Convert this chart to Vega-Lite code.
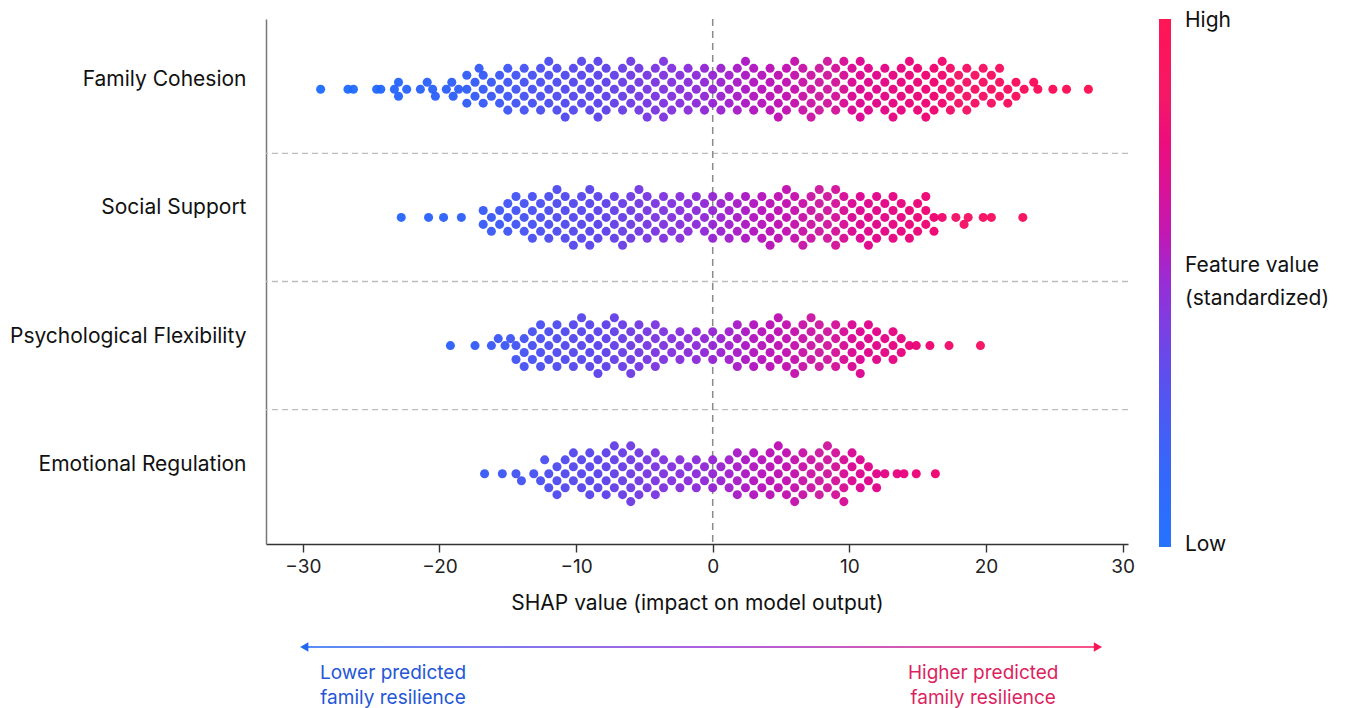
{
"$schema": "https://vega.github.io/schema/vega-lite/v6.json",
"background": "white",
"padding": {"left": 9, "top": 18, "right": 5, "bottom": 1},
"config": {"font": "Inter", "view": {"stroke": null}},
"bounds": "flush",
"spacing": 80,
"vconcat": [
{
"width": 862, "height": 525,
"layer": [
{"data": {"values": [{"f":2},{"f":3},{"f":4}]},
 "mark": {"type":"rule","color":"#bdbdbd","strokeDash":[6,4],"strokeWidth":1.3},
 "encoding": {"y": {"field":"f","type":"nominal","bandPosition":0}}},
{"data": {"values": [{}]},
 "mark": {"type":"rule","color":"#8a8a8a","strokeDash":[7,5],"strokeWidth":1.5},
 "encoding": {"x": {"datum":0,"type":"quantitative"}}},
{"data": {"values": [
{"f":1,"x":-28.7,"o":0},{"f":1,"x":-26.7,"o":0},{"f":1,"x":-26.3,"o":0},{"f":1,"x":-24.6,"o":0},{"f":1,"x":-24.3,"o":0},{"f":1,"x":-23.3,"o":0},{"f":1,"x":-23,"o":-1},{"f":1,"x":-23,"o":1},{"f":1,"x":-22.4,"o":0},{"f":1,"x":-21.4,"o":0},{"f":1,"x":-20.9,"o":-1},{"f":1,"x":-20.5,"o":0},{"f":1,"x":-20.3,"o":1},{"f":1,"x":-19.5,"o":0},{"f":1,"x":-19.1,"o":-1},{"f":1,"x":-19,"o":1},{"f":1,"x":-18.6,"o":0},{"f":1,"x":-17.1,"o":-3},
{"f":1,"x":-18,"o":0},{"f":1,"x":-18,"o":-2},{"f":1,"x":-18,"o":2},
{"f":1,"x":-17.4,"o":-1},{"f":1,"x":-17.4,"o":1},
{"f":1,"x":-16.8,"o":0},{"f":1,"x":-16.8,"o":-2},{"f":1,"x":-16.8,"o":2},
{"f":1,"x":-16.2,"o":-1},{"f":1,"x":-16.2,"o":1},
{"f":1,"x":-15.6,"o":0},{"f":1,"x":-15.6,"o":-2},{"f":1,"x":-15.6,"o":2},
{"f":1,"x":-15,"o":-1},{"f":1,"x":-15,"o":1},{"f":1,"x":-15,"o":-3},{"f":1,"x":-15,"o":3},
{"f":1,"x":-14.4,"o":0},{"f":1,"x":-14.4,"o":-2},{"f":1,"x":-14.4,"o":2},
{"f":1,"x":-13.8,"o":-1},{"f":1,"x":-13.8,"o":1},{"f":1,"x":-13.8,"o":-3},{"f":1,"x":-13.8,"o":3},
{"f":1,"x":-13.2,"o":0},{"f":1,"x":-13.2,"o":-2},{"f":1,"x":-13.2,"o":2},
{"f":1,"x":-12.6,"o":-1},{"f":1,"x":-12.6,"o":1},{"f":1,"x":-12.6,"o":-3},{"f":1,"x":-12.6,"o":3},
{"f":1,"x":-12,"o":0},{"f":1,"x":-12,"o":-2},{"f":1,"x":-12,"o":2},{"f":1,"x":-12,"o":-4},
{"f":1,"x":-11.4,"o":-1},{"f":1,"x":-11.4,"o":1},{"f":1,"x":-11.4,"o":-3},{"f":1,"x":-11.4,"o":3},
{"f":1,"x":-10.8,"o":0},{"f":1,"x":-10.8,"o":-2},{"f":1,"x":-10.8,"o":2},{"f":1,"x":-10.8,"o":4},
{"f":1,"x":-10.2,"o":-1},{"f":1,"x":-10.2,"o":1},{"f":1,"x":-10.2,"o":-3},{"f":1,"x":-10.2,"o":3},
{"f":1,"x":-9.6,"o":0},{"f":1,"x":-9.6,"o":-2},{"f":1,"x":-9.6,"o":2},{"f":1,"x":-9.6,"o":-4},
{"f":1,"x":-9,"o":-1},{"f":1,"x":-9,"o":1},{"f":1,"x":-9,"o":-3},{"f":1,"x":-9,"o":3},
{"f":1,"x":-8.4,"o":0},{"f":1,"x":-8.4,"o":-2},{"f":1,"x":-8.4,"o":2},{"f":1,"x":-8.4,"o":-4},{"f":1,"x":-8.4,"o":4},
{"f":1,"x":-7.8,"o":-1},{"f":1,"x":-7.8,"o":1},{"f":1,"x":-7.8,"o":-3},{"f":1,"x":-7.8,"o":3},
{"f":1,"x":-7.2,"o":0},{"f":1,"x":-7.2,"o":-2},{"f":1,"x":-7.2,"o":2},
{"f":1,"x":-6.6,"o":-1},{"f":1,"x":-6.6,"o":1},{"f":1,"x":-6.6,"o":-3},{"f":1,"x":-6.6,"o":3},
{"f":1,"x":-6,"o":0},{"f":1,"x":-6,"o":-2},{"f":1,"x":-6,"o":2},{"f":1,"x":-6,"o":-4},
{"f":1,"x":-5.4,"o":-1},{"f":1,"x":-5.4,"o":1},{"f":1,"x":-5.4,"o":-3},{"f":1,"x":-5.4,"o":3},
{"f":1,"x":-4.8,"o":0},{"f":1,"x":-4.8,"o":-2},{"f":1,"x":-4.8,"o":2},{"f":1,"x":-4.8,"o":4},
{"f":1,"x":-4.2,"o":-1},{"f":1,"x":-4.2,"o":1},{"f":1,"x":-4.2,"o":-3},{"f":1,"x":-4.2,"o":3},
{"f":1,"x":-3.6,"o":0},{"f":1,"x":-3.6,"o":-2},{"f":1,"x":-3.6,"o":2},{"f":1,"x":-3.6,"o":-4},{"f":1,"x":-3.6,"o":4},
{"f":1,"x":-3,"o":-1},{"f":1,"x":-3,"o":1},{"f":1,"x":-3,"o":-3},{"f":1,"x":-3,"o":3},
{"f":1,"x":-2.4,"o":0},{"f":1,"x":-2.4,"o":-2},{"f":1,"x":-2.4,"o":2},
{"f":1,"x":-1.8,"o":-1},{"f":1,"x":-1.8,"o":1},{"f":1,"x":-1.8,"o":-3},{"f":1,"x":-1.8,"o":3},
{"f":1,"x":-1.2,"o":0},{"f":1,"x":-1.2,"o":-2},{"f":1,"x":-1.2,"o":2},
{"f":1,"x":-0.6,"o":-1},{"f":1,"x":-0.6,"o":1},{"f":1,"x":-0.6,"o":-3},{"f":1,"x":-0.6,"o":3},
{"f":1,"x":0,"o":0},{"f":1,"x":0,"o":-2},{"f":1,"x":0,"o":2},
{"f":1,"x":0.6,"o":-1},{"f":1,"x":0.6,"o":1},{"f":1,"x":0.6,"o":-3},{"f":1,"x":0.6,"o":3},
{"f":1,"x":1.2,"o":0},{"f":1,"x":1.2,"o":-2},{"f":1,"x":1.2,"o":2},
{"f":1,"x":1.8,"o":-1},{"f":1,"x":1.8,"o":1},{"f":1,"x":1.8,"o":-3},{"f":1,"x":1.8,"o":3},
{"f":1,"x":2.4,"o":0},{"f":1,"x":2.4,"o":-2},{"f":1,"x":2.4,"o":2},{"f":1,"x":2.4,"o":-4},
{"f":1,"x":3,"o":-1},{"f":1,"x":3,"o":1},{"f":1,"x":3,"o":-3},{"f":1,"x":3,"o":3},
{"f":1,"x":3.6,"o":0},{"f":1,"x":3.6,"o":-2},{"f":1,"x":3.6,"o":2},
{"f":1,"x":4.2,"o":-1},{"f":1,"x":4.2,"o":1},{"f":1,"x":4.2,"o":-3},{"f":1,"x":4.2,"o":3},
{"f":1,"x":4.8,"o":0},{"f":1,"x":4.8,"o":-2},{"f":1,"x":4.8,"o":2},{"f":1,"x":4.8,"o":4},
{"f":1,"x":5.4,"o":-1},{"f":1,"x":5.4,"o":1},{"f":1,"x":5.4,"o":-3},{"f":1,"x":5.4,"o":3},
{"f":1,"x":6,"o":0},{"f":1,"x":6,"o":-2},{"f":1,"x":6,"o":2},{"f":1,"x":6,"o":-4},
{"f":1,"x":6.6,"o":-1},{"f":1,"x":6.6,"o":1},{"f":1,"x":6.6,"o":-3},{"f":1,"x":6.6,"o":3},
{"f":1,"x":7.2,"o":0},{"f":1,"x":7.2,"o":-2},{"f":1,"x":7.2,"o":2},{"f":1,"x":7.2,"o":4},
{"f":1,"x":7.8,"o":-1},{"f":1,"x":7.8,"o":1},{"f":1,"x":7.8,"o":-3},{"f":1,"x":7.8,"o":3},
{"f":1,"x":8.4,"o":0},{"f":1,"x":8.4,"o":-2},{"f":1,"x":8.4,"o":2},{"f":1,"x":8.4,"o":-4},
{"f":1,"x":9,"o":-1},{"f":1,"x":9,"o":1},{"f":1,"x":9,"o":-3},{"f":1,"x":9,"o":3},
{"f":1,"x":9.6,"o":0},{"f":1,"x":9.6,"o":-2},{"f":1,"x":9.6,"o":2},{"f":1,"x":9.6,"o":-4},
{"f":1,"x":10.2,"o":-1},{"f":1,"x":10.2,"o":1},{"f":1,"x":10.2,"o":-3},{"f":1,"x":10.2,"o":3},
{"f":1,"x":10.8,"o":0},{"f":1,"x":10.8,"o":-2},{"f":1,"x":10.8,"o":2},{"f":1,"x":10.8,"o":-4},{"f":1,"x":10.8,"o":4},
{"f":1,"x":11.4,"o":-1},{"f":1,"x":11.4,"o":1},{"f":1,"x":11.4,"o":-3},{"f":1,"x":11.4,"o":3},
{"f":1,"x":12,"o":0},{"f":1,"x":12,"o":-2},{"f":1,"x":12,"o":2},
{"f":1,"x":12.6,"o":-1},{"f":1,"x":12.6,"o":1},{"f":1,"x":12.6,"o":-3},{"f":1,"x":12.6,"o":3},
{"f":1,"x":13.2,"o":0},{"f":1,"x":13.2,"o":-2},{"f":1,"x":13.2,"o":2},{"f":1,"x":13.2,"o":4},
{"f":1,"x":13.8,"o":-1},{"f":1,"x":13.8,"o":1},{"f":1,"x":13.8,"o":-3},{"f":1,"x":13.8,"o":3},
{"f":1,"x":14.4,"o":0},{"f":1,"x":14.4,"o":-2},{"f":1,"x":14.4,"o":2},{"f":1,"x":14.4,"o":-4},
{"f":1,"x":15,"o":-1},{"f":1,"x":15,"o":1},{"f":1,"x":15,"o":-3},{"f":1,"x":15,"o":3},
{"f":1,"x":15.6,"o":0},{"f":1,"x":15.6,"o":-2},{"f":1,"x":15.6,"o":2},{"f":1,"x":15.6,"o":4},
{"f":1,"x":16.2,"o":-1},{"f":1,"x":16.2,"o":1},{"f":1,"x":16.2,"o":-3},{"f":1,"x":16.2,"o":3},
{"f":1,"x":16.8,"o":0},{"f":1,"x":16.8,"o":-2},{"f":1,"x":16.8,"o":2},{"f":1,"x":16.8,"o":-4},
{"f":1,"x":17.4,"o":-1},{"f":1,"x":17.4,"o":1},{"f":1,"x":17.4,"o":-3},{"f":1,"x":17.4,"o":3},
{"f":1,"x":18,"o":0},{"f":1,"x":18,"o":-2},{"f":1,"x":18,"o":2},
{"f":1,"x":18.6,"o":-1},{"f":1,"x":18.6,"o":1},{"f":1,"x":18.6,"o":-3},{"f":1,"x":18.6,"o":3},
{"f":1,"x":19.2,"o":0},{"f":1,"x":19.2,"o":-2},{"f":1,"x":19.2,"o":2},
{"f":1,"x":19.8,"o":-1},{"f":1,"x":19.8,"o":1},{"f":1,"x":19.8,"o":-3},
{"f":1,"x":20.4,"o":0},{"f":1,"x":20.4,"o":-2},{"f":1,"x":20.4,"o":2},
{"f":1,"x":21,"o":-1},{"f":1,"x":21,"o":1},{"f":1,"x":21,"o":-3},
{"f":1,"x":21.6,"o":0},{"f":1,"x":21.6,"o":2},
{"f":1,"x":22.2,"o":-1},{"f":1,"x":22.2,"o":1},
{"f":1,"x":22.8,"o":0},{"f":1,"x":23.5,"o":-1},{"f":1,"x":23.8,"o":0},{"f":1,"x":24.9,"o":0},{"f":1,"x":25.9,"o":0},{"f":1,"x":27.5,"o":0},

{"f":2,"x":-22.8,"o":0},{"f":2,"x":-20.8,"o":0},{"f":2,"x":-19.7,"o":0},{"f":2,"x":-18.4,"o":0},
{"f":2,"x":-16.8,"o":-1},{"f":2,"x":-16.8,"o":1},
{"f":2,"x":-16.2,"o":0},{"f":2,"x":-16.2,"o":2},
{"f":2,"x":-15.6,"o":-1},{"f":2,"x":-15.6,"o":1},
{"f":2,"x":-15,"o":0},{"f":2,"x":-15,"o":-2},{"f":2,"x":-15,"o":2},
{"f":2,"x":-14.4,"o":-1},{"f":2,"x":-14.4,"o":1},{"f":2,"x":-14.4,"o":-3},
{"f":2,"x":-13.8,"o":0},{"f":2,"x":-13.8,"o":-2},{"f":2,"x":-13.8,"o":2},
{"f":2,"x":-13.2,"o":-1},{"f":2,"x":-13.2,"o":1},{"f":2,"x":-13.2,"o":-3},{"f":2,"x":-13.2,"o":3},
{"f":2,"x":-12.6,"o":0},{"f":2,"x":-12.6,"o":-2},{"f":2,"x":-12.6,"o":2},
{"f":2,"x":-12,"o":-1},{"f":2,"x":-12,"o":1},{"f":2,"x":-12,"o":-3},{"f":2,"x":-12,"o":3},
{"f":2,"x":-11.4,"o":0},{"f":2,"x":-11.4,"o":-2},{"f":2,"x":-11.4,"o":2},{"f":2,"x":-11.4,"o":-4},
{"f":2,"x":-10.8,"o":-1},{"f":2,"x":-10.8,"o":1},{"f":2,"x":-10.8,"o":-3},{"f":2,"x":-10.8,"o":3},
{"f":2,"x":-10.2,"o":0},{"f":2,"x":-10.2,"o":-2},{"f":2,"x":-10.2,"o":2},{"f":2,"x":-10.2,"o":4},
{"f":2,"x":-9.6,"o":-1},{"f":2,"x":-9.6,"o":1},{"f":2,"x":-9.6,"o":-3},{"f":2,"x":-9.6,"o":3},
{"f":2,"x":-9,"o":0},{"f":2,"x":-9,"o":-2},{"f":2,"x":-9,"o":2},{"f":2,"x":-9,"o":-4},{"f":2,"x":-9,"o":4},
{"f":2,"x":-8.4,"o":-1},{"f":2,"x":-8.4,"o":1},{"f":2,"x":-8.4,"o":-3},{"f":2,"x":-8.4,"o":3},
{"f":2,"x":-7.8,"o":0},{"f":2,"x":-7.8,"o":-2},{"f":2,"x":-7.8,"o":2},
{"f":2,"x":-7.2,"o":-1},{"f":2,"x":-7.2,"o":1},{"f":2,"x":-7.2,"o":-3},{"f":2,"x":-7.2,"o":3},
{"f":2,"x":-6.6,"o":0},{"f":2,"x":-6.6,"o":-2},{"f":2,"x":-6.6,"o":2},{"f":2,"x":-6.6,"o":4},
{"f":2,"x":-6,"o":-1},{"f":2,"x":-6,"o":1},{"f":2,"x":-6,"o":-3},{"f":2,"x":-6,"o":3},
{"f":2,"x":-5.4,"o":0},{"f":2,"x":-5.4,"o":-2},{"f":2,"x":-5.4,"o":2},{"f":2,"x":-5.4,"o":-4},
{"f":2,"x":-4.8,"o":-1},{"f":2,"x":-4.8,"o":1},{"f":2,"x":-4.8,"o":-3},{"f":2,"x":-4.8,"o":3},
{"f":2,"x":-4.2,"o":0},{"f":2,"x":-4.2,"o":-2},{"f":2,"x":-4.2,"o":2},
{"f":2,"x":-3.6,"o":-1},{"f":2,"x":-3.6,"o":1},{"f":2,"x":-3.6,"o":-3},{"f":2,"x":-3.6,"o":3},
{"f":2,"x":-3,"o":0},{"f":2,"x":-3,"o":-2},{"f":2,"x":-3,"o":2},
{"f":2,"x":-2.4,"o":-1},{"f":2,"x":-2.4,"o":1},{"f":2,"x":-2.4,"o":-3},{"f":2,"x":-2.4,"o":3},
{"f":2,"x":-1.8,"o":0},{"f":2,"x":-1.8,"o":-2},{"f":2,"x":-1.8,"o":2},
{"f":2,"x":-1.2,"o":-1},{"f":2,"x":-1.2,"o":1},{"f":2,"x":-1.2,"o":-3},
{"f":2,"x":-0.6,"o":0},{"f":2,"x":-0.6,"o":-2},{"f":2,"x":-0.6,"o":2},
{"f":2,"x":0,"o":-1},{"f":2,"x":0,"o":1},{"f":2,"x":0,"o":-3},{"f":2,"x":0,"o":3},
{"f":2,"x":0.6,"o":0},{"f":2,"x":0.6,"o":-2},{"f":2,"x":0.6,"o":2},
{"f":2,"x":1.2,"o":-1},{"f":2,"x":1.2,"o":1},{"f":2,"x":1.2,"o":-3},{"f":2,"x":1.2,"o":3},
{"f":2,"x":1.8,"o":0},{"f":2,"x":1.8,"o":-2},{"f":2,"x":1.8,"o":2},
{"f":2,"x":2.4,"o":-1},{"f":2,"x":2.4,"o":1},{"f":2,"x":2.4,"o":-3},{"f":2,"x":2.4,"o":3},
{"f":2,"x":3,"o":0},{"f":2,"x":3,"o":-2},{"f":2,"x":3,"o":2},
{"f":2,"x":3.6,"o":-1},{"f":2,"x":3.6,"o":1},{"f":2,"x":3.6,"o":-3},{"f":2,"x":3.6,"o":3},
{"f":2,"x":4.2,"o":0},{"f":2,"x":4.2,"o":-2},{"f":2,"x":4.2,"o":2},{"f":2,"x":4.2,"o":4},
{"f":2,"x":4.8,"o":-1},{"f":2,"x":4.8,"o":1},{"f":2,"x":4.8,"o":-3},{"f":2,"x":4.8,"o":3},
{"f":2,"x":5.4,"o":0},{"f":2,"x":5.4,"o":-2},{"f":2,"x":5.4,"o":2},{"f":2,"x":5.4,"o":-4},
{"f":2,"x":6,"o":-1},{"f":2,"x":6,"o":1},{"f":2,"x":6,"o":-3},{"f":2,"x":6,"o":3},
{"f":2,"x":6.6,"o":0},{"f":2,"x":6.6,"o":-2},{"f":2,"x":6.6,"o":2},{"f":2,"x":6.6,"o":4},
{"f":2,"x":7.2,"o":-1},{"f":2,"x":7.2,"o":1},{"f":2,"x":7.2,"o":-3},{"f":2,"x":7.2,"o":3},
{"f":2,"x":7.8,"o":0},{"f":2,"x":7.8,"o":-2},{"f":2,"x":7.8,"o":2},{"f":2,"x":7.8,"o":-4},
{"f":2,"x":8.4,"o":-1},{"f":2,"x":8.4,"o":1},{"f":2,"x":8.4,"o":-3},{"f":2,"x":8.4,"o":3},
{"f":2,"x":9,"o":0},{"f":2,"x":9,"o":-2},{"f":2,"x":9,"o":2},{"f":2,"x":9,"o":-4},{"f":2,"x":9,"o":4},
{"f":2,"x":9.6,"o":-1},{"f":2,"x":9.6,"o":1},{"f":2,"x":9.6,"o":-3},{"f":2,"x":9.6,"o":3},
{"f":2,"x":10.2,"o":0},{"f":2,"x":10.2,"o":-2},{"f":2,"x":10.2,"o":2},
{"f":2,"x":10.8,"o":-1},{"f":2,"x":10.8,"o":1},{"f":2,"x":10.8,"o":-3},{"f":2,"x":10.8,"o":3},
{"f":2,"x":11.4,"o":0},{"f":2,"x":11.4,"o":-2},{"f":2,"x":11.4,"o":2},{"f":2,"x":11.4,"o":4},
{"f":2,"x":12,"o":-1},{"f":2,"x":12,"o":1},{"f":2,"x":12,"o":-3},{"f":2,"x":12,"o":3},
{"f":2,"x":12.6,"o":0},{"f":2,"x":12.6,"o":-2},{"f":2,"x":12.6,"o":2},
{"f":2,"x":13.2,"o":-1},{"f":2,"x":13.2,"o":1},{"f":2,"x":13.2,"o":-3},{"f":2,"x":13.2,"o":3},
{"f":2,"x":13.8,"o":0},{"f":2,"x":13.8,"o":-2},{"f":2,"x":13.8,"o":2},
{"f":2,"x":14.4,"o":-1},{"f":2,"x":14.4,"o":1},{"f":2,"x":14.4,"o":3},
{"f":2,"x":15,"o":0},{"f":2,"x":15,"o":-2},{"f":2,"x":15,"o":2},
{"f":2,"x":15.6,"o":-1},{"f":2,"x":15.6,"o":1},{"f":2,"x":15.6,"o":-3},
{"f":2,"x":16.2,"o":0},{"f":2,"x":16.2,"o":2},
{"f":2,"x":16.8,"o":0},{"f":2,"x":17.8,"o":0},{"f":2,"x":18.4,"o":1},{"f":2,"x":18.7,"o":0},{"f":2,"x":19.8,"o":0},{"f":2,"x":20.4,"o":0},{"f":2,"x":22.7,"o":0},

{"f":3,"x":-19.2,"o":0},{"f":3,"x":-17.4,"o":0},{"f":3,"x":-16.2,"o":0},{"f":3,"x":-15.7,"o":-1},{"f":3,"x":-15.2,"o":0},{"f":3,"x":-14.8,"o":-1},
{"f":3,"x":-14.4,"o":0},{"f":3,"x":-14.4,"o":2},
{"f":3,"x":-13.8,"o":-1},{"f":3,"x":-13.8,"o":1},{"f":3,"x":-13.8,"o":3},
{"f":3,"x":-13.2,"o":0},{"f":3,"x":-13.2,"o":-2},{"f":3,"x":-13.2,"o":2},
{"f":3,"x":-12.6,"o":-1},{"f":3,"x":-12.6,"o":1},{"f":3,"x":-12.6,"o":-3},{"f":3,"x":-12.6,"o":3},
{"f":3,"x":-12,"o":0},{"f":3,"x":-12,"o":-2},{"f":3,"x":-12,"o":2},
{"f":3,"x":-11.4,"o":-1},{"f":3,"x":-11.4,"o":1},{"f":3,"x":-11.4,"o":-3},{"f":3,"x":-11.4,"o":3},
{"f":3,"x":-10.8,"o":0},{"f":3,"x":-10.8,"o":-2},{"f":3,"x":-10.8,"o":2},
{"f":3,"x":-10.2,"o":-1},{"f":3,"x":-10.2,"o":1},{"f":3,"x":-10.2,"o":-3},{"f":3,"x":-10.2,"o":3},
{"f":3,"x":-9.6,"o":0},{"f":3,"x":-9.6,"o":-2},{"f":3,"x":-9.6,"o":2},{"f":3,"x":-9.6,"o":-4},
{"f":3,"x":-9,"o":-1},{"f":3,"x":-9,"o":1},{"f":3,"x":-9,"o":-3},{"f":3,"x":-9,"o":3},
{"f":3,"x":-8.4,"o":0},{"f":3,"x":-8.4,"o":-2},{"f":3,"x":-8.4,"o":2},{"f":3,"x":-8.4,"o":4},
{"f":3,"x":-7.8,"o":-1},{"f":3,"x":-7.8,"o":1},{"f":3,"x":-7.8,"o":-3},{"f":3,"x":-7.8,"o":3},
{"f":3,"x":-7.2,"o":0},{"f":3,"x":-7.2,"o":-2},{"f":3,"x":-7.2,"o":2},{"f":3,"x":-7.2,"o":-4},
{"f":3,"x":-6.6,"o":-1},{"f":3,"x":-6.6,"o":1},{"f":3,"x":-6.6,"o":-3},{"f":3,"x":-6.6,"o":3},
{"f":3,"x":-6,"o":0},{"f":3,"x":-6,"o":-2},{"f":3,"x":-6,"o":2},{"f":3,"x":-6,"o":4},
{"f":3,"x":-5.4,"o":-1},{"f":3,"x":-5.4,"o":1},{"f":3,"x":-5.4,"o":-3},{"f":3,"x":-5.4,"o":3},
{"f":3,"x":-4.8,"o":0},{"f":3,"x":-4.8,"o":-2},{"f":3,"x":-4.8,"o":2},
{"f":3,"x":-4.2,"o":-1},{"f":3,"x":-4.2,"o":1},{"f":3,"x":-4.2,"o":-3},{"f":3,"x":-4.2,"o":3},
{"f":3,"x":-3.6,"o":0},{"f":3,"x":-3.6,"o":-2},{"f":3,"x":-3.6,"o":2},
{"f":3,"x":-3,"o":-1},{"f":3,"x":-3,"o":1},
{"f":3,"x":-2.4,"o":0},{"f":3,"x":-2.4,"o":-2},{"f":3,"x":-2.4,"o":2},
{"f":3,"x":-1.8,"o":-1},{"f":3,"x":-1.8,"o":1},
{"f":3,"x":-1.2,"o":0},{"f":3,"x":-1.2,"o":-2},{"f":3,"x":-1.2,"o":2},
{"f":3,"x":-0.6,"o":-1},{"f":3,"x":-0.6,"o":1},
{"f":3,"x":0,"o":0},{"f":3,"x":0,"o":-2},{"f":3,"x":0,"o":2},
{"f":3,"x":0.6,"o":-1},{"f":3,"x":0.6,"o":1},
{"f":3,"x":1.2,"o":0},{"f":3,"x":1.2,"o":-2},{"f":3,"x":1.2,"o":2},
{"f":3,"x":1.8,"o":-1},{"f":3,"x":1.8,"o":1},{"f":3,"x":1.8,"o":-3},{"f":3,"x":1.8,"o":3},
{"f":3,"x":2.4,"o":0},{"f":3,"x":2.4,"o":-2},{"f":3,"x":2.4,"o":2},
{"f":3,"x":3,"o":-1},{"f":3,"x":3,"o":1},{"f":3,"x":3,"o":-3},{"f":3,"x":3,"o":3},
{"f":3,"x":3.6,"o":0},{"f":3,"x":3.6,"o":-2},{"f":3,"x":3.6,"o":2},
{"f":3,"x":4.2,"o":-1},{"f":3,"x":4.2,"o":1},{"f":3,"x":4.2,"o":-3},{"f":3,"x":4.2,"o":3},
{"f":3,"x":4.8,"o":0},{"f":3,"x":4.8,"o":-2},{"f":3,"x":4.8,"o":2},{"f":3,"x":4.8,"o":-4},
{"f":3,"x":5.4,"o":-1},{"f":3,"x":5.4,"o":1},{"f":3,"x":5.4,"o":-3},{"f":3,"x":5.4,"o":3},
{"f":3,"x":6,"o":0},{"f":3,"x":6,"o":-2},{"f":3,"x":6,"o":2},{"f":3,"x":6,"o":4},
{"f":3,"x":6.6,"o":-1},{"f":3,"x":6.6,"o":1},{"f":3,"x":6.6,"o":-3},{"f":3,"x":6.6,"o":3},
{"f":3,"x":7.2,"o":0},{"f":3,"x":7.2,"o":-2},{"f":3,"x":7.2,"o":2},{"f":3,"x":7.2,"o":-4},
{"f":3,"x":7.8,"o":-1},{"f":3,"x":7.8,"o":1},{"f":3,"x":7.8,"o":-3},{"f":3,"x":7.8,"o":3},
{"f":3,"x":8.4,"o":0},{"f":3,"x":8.4,"o":-2},{"f":3,"x":8.4,"o":2},
{"f":3,"x":9,"o":-1},{"f":3,"x":9,"o":1},{"f":3,"x":9,"o":-3},{"f":3,"x":9,"o":3},
{"f":3,"x":9.6,"o":0},{"f":3,"x":9.6,"o":-2},{"f":3,"x":9.6,"o":2},
{"f":3,"x":10.2,"o":-1},{"f":3,"x":10.2,"o":1},{"f":3,"x":10.2,"o":-3},{"f":3,"x":10.2,"o":3},
{"f":3,"x":10.8,"o":0},{"f":3,"x":10.8,"o":-2},{"f":3,"x":10.8,"o":2},{"f":3,"x":10.8,"o":4},
{"f":3,"x":11.4,"o":-1},{"f":3,"x":11.4,"o":1},{"f":3,"x":11.4,"o":-3},
{"f":3,"x":12,"o":0},{"f":3,"x":12,"o":-2},{"f":3,"x":12,"o":2},
{"f":3,"x":12.6,"o":-1},{"f":3,"x":12.6,"o":1},
{"f":3,"x":13.2,"o":0},{"f":3,"x":13.2,"o":-2},{"f":3,"x":13.2,"o":2},
{"f":3,"x":13.8,"o":-1},{"f":3,"x":13.8,"o":1},
{"f":3,"x":14.4,"o":0},{"f":3,"x":14.9,"o":0},{"f":3,"x":15.9,"o":0},{"f":3,"x":17.3,"o":0},{"f":3,"x":19.6,"o":0},

{"f":4,"x":-16.7,"o":0},{"f":4,"x":-15.4,"o":0},{"f":4,"x":-14.4,"o":0},{"f":4,"x":-14,"o":1},{"f":4,"x":-13.1,"o":0},{"f":4,"x":-12.6,"o":1},{"f":4,"x":-12.3,"o":-2},
{"f":4,"x":-12,"o":0},{"f":4,"x":-12,"o":2},
{"f":4,"x":-11.4,"o":-1},{"f":4,"x":-11.4,"o":1},{"f":4,"x":-11.4,"o":3},
{"f":4,"x":-10.8,"o":0},{"f":4,"x":-10.8,"o":-2},{"f":4,"x":-10.8,"o":2},
{"f":4,"x":-10.2,"o":-1},{"f":4,"x":-10.2,"o":1},{"f":4,"x":-10.2,"o":-3},
{"f":4,"x":-9.6,"o":0},{"f":4,"x":-9.6,"o":-2},{"f":4,"x":-9.6,"o":2},
{"f":4,"x":-9,"o":-1},{"f":4,"x":-9,"o":1},{"f":4,"x":-9,"o":-3},{"f":4,"x":-9,"o":3},
{"f":4,"x":-8.4,"o":0},{"f":4,"x":-8.4,"o":-2},{"f":4,"x":-8.4,"o":2},
{"f":4,"x":-7.8,"o":-1},{"f":4,"x":-7.8,"o":1},{"f":4,"x":-7.8,"o":-3},{"f":4,"x":-7.8,"o":3},
{"f":4,"x":-7.2,"o":0},{"f":4,"x":-7.2,"o":-2},{"f":4,"x":-7.2,"o":2},{"f":4,"x":-7.2,"o":-4},
{"f":4,"x":-6.6,"o":-1},{"f":4,"x":-6.6,"o":1},{"f":4,"x":-6.6,"o":-3},{"f":4,"x":-6.6,"o":3},
{"f":4,"x":-6,"o":0},{"f":4,"x":-6,"o":-2},{"f":4,"x":-6,"o":2},{"f":4,"x":-6,"o":-4},{"f":4,"x":-6,"o":4},
{"f":4,"x":-5.4,"o":-1},{"f":4,"x":-5.4,"o":1},{"f":4,"x":-5.4,"o":-3},{"f":4,"x":-5.4,"o":3},
{"f":4,"x":-4.8,"o":0},{"f":4,"x":-4.8,"o":-2},{"f":4,"x":-4.8,"o":2},
{"f":4,"x":-4.2,"o":-1},{"f":4,"x":-4.2,"o":1},{"f":4,"x":-4.2,"o":-3},{"f":4,"x":-4.2,"o":3},
{"f":4,"x":-3.6,"o":0},{"f":4,"x":-3.6,"o":-2},{"f":4,"x":-3.6,"o":2},
{"f":4,"x":-3,"o":-1},{"f":4,"x":-3,"o":1},
{"f":4,"x":-2.4,"o":0},{"f":4,"x":-2.4,"o":-2},{"f":4,"x":-2.4,"o":2},
{"f":4,"x":-1.8,"o":-1},{"f":4,"x":-1.8,"o":1},
{"f":4,"x":-1.2,"o":0},{"f":4,"x":-1.2,"o":-2},{"f":4,"x":-1.2,"o":2},
{"f":4,"x":-0.6,"o":-1},{"f":4,"x":-0.6,"o":1},
{"f":4,"x":0,"o":0},{"f":4,"x":0,"o":-2},{"f":4,"x":0,"o":2},
{"f":4,"x":0.6,"o":-1},{"f":4,"x":0.6,"o":1},
{"f":4,"x":1.2,"o":0},{"f":4,"x":1.2,"o":-2},{"f":4,"x":1.2,"o":2},
{"f":4,"x":1.8,"o":-1},{"f":4,"x":1.8,"o":1},{"f":4,"x":1.8,"o":-3},{"f":4,"x":1.8,"o":3},
{"f":4,"x":2.4,"o":0},{"f":4,"x":2.4,"o":-2},{"f":4,"x":2.4,"o":2},
{"f":4,"x":3,"o":-1},{"f":4,"x":3,"o":1},{"f":4,"x":3,"o":-3},{"f":4,"x":3,"o":3},
{"f":4,"x":3.6,"o":0},{"f":4,"x":3.6,"o":-2},{"f":4,"x":3.6,"o":2},
{"f":4,"x":4.2,"o":-1},{"f":4,"x":4.2,"o":1},{"f":4,"x":4.2,"o":-3},{"f":4,"x":4.2,"o":3},
{"f":4,"x":4.8,"o":0},{"f":4,"x":4.8,"o":-2},{"f":4,"x":4.8,"o":2},{"f":4,"x":4.8,"o":-4},
{"f":4,"x":5.4,"o":-1},{"f":4,"x":5.4,"o":1},{"f":4,"x":5.4,"o":-3},{"f":4,"x":5.4,"o":3},
{"f":4,"x":6,"o":0},{"f":4,"x":6,"o":-2},{"f":4,"x":6,"o":2},{"f":4,"x":6,"o":4},
{"f":4,"x":6.6,"o":-1},{"f":4,"x":6.6,"o":1},{"f":4,"x":6.6,"o":-3},{"f":4,"x":6.6,"o":3},
{"f":4,"x":7.2,"o":0},{"f":4,"x":7.2,"o":-2},{"f":4,"x":7.2,"o":2},
{"f":4,"x":7.8,"o":-1},{"f":4,"x":7.8,"o":1},{"f":4,"x":7.8,"o":-3},{"f":4,"x":7.8,"o":3},
{"f":4,"x":8.4,"o":0},{"f":4,"x":8.4,"o":-2},{"f":4,"x":8.4,"o":2},{"f":4,"x":8.4,"o":-4},
{"f":4,"x":9,"o":-1},{"f":4,"x":9,"o":1},{"f":4,"x":9,"o":-3},{"f":4,"x":9,"o":3},
{"f":4,"x":9.6,"o":0},{"f":4,"x":9.6,"o":-2},{"f":4,"x":9.6,"o":2},{"f":4,"x":9.6,"o":4},
{"f":4,"x":10.2,"o":-1},{"f":4,"x":10.2,"o":1},{"f":4,"x":10.2,"o":-3},
{"f":4,"x":10.8,"o":0},{"f":4,"x":10.8,"o":-2},{"f":4,"x":10.8,"o":2},
{"f":4,"x":11.4,"o":-1},{"f":4,"x":11.4,"o":1},
{"f":4,"x":12,"o":0},{"f":4,"x":12,"o":2},
{"f":4,"x":12.6,"o":0},{"f":4,"x":13.5,"o":0},{"f":4,"x":14,"o":0},{"f":4,"x":14.9,"o":0},{"f":4,"x":16.3,"o":0}
]},
 "mark": {"type":"circle","size":82,"opacity":0.95},
 "encoding": {
  "x": {"field":"x","type":"quantitative","scale":{"domain":[-32.7,30.4],"nice":false,"zero":false},
        "axis":{"title":"SHAP value (impact on model output)","values":[-30,-20,-10,0,10,20,30],"grid":false,"labelFontSize":19,"labelColor":"#222","titleFontSize":21,"titleFontWeight":"normal","titleColor":"#111","titlePadding":16,"tickSize":8,"tickColor":"#333","tickWidth":1.4,"domainColor":"#333","domainWidth":1.6,"labelPadding":5}},
  "y": {"field":"f","type":"nominal","scale":{"type":"band","domain":[1,2,3,4],"paddingInner":0,"paddingOuter":0.048},
        "axis":{"title":null,"ticks":false,"grid":false,"domainColor":"#777","domainWidth":1.5,"labelFontSize":21,"labelColor":"#111","labelPadding":20,"labelOffset":-9,"labelLimit":400,"labelExpr":"datum.value==1?'Family Cohesion':datum.value==2?'Social Support':datum.value==3?'Psychological Flexibility':'Emotional Regulation'"}},
  "yOffset": {"field":"o","type":"quantitative","scale":{"domain":[-9.2,9.2]}},
  "color": {"field":"x","type":"quantitative",
        "scale":{"domain":[-28,-18,-8,0,8,18,28],"range":["#1a6bff","#2d5cf8","#5a3fe9","#9222d4","#cc179e","#f21063","#ff0a4c"],"clamp":true},
        "legend":{"title":null,"orient":"right","offset":24,"direction":"vertical","gradientLength":528,"gradientThickness":12,"gradientStrokeWidth":0,"values":[-27.8,-1.7,1.8,27.8],"labelExpr":"datum.value>20?'High':datum.value<-20?'Low':datum.value>0?'Feature value':'(standardized)'","labelFontSize":21,"labelColor":"#111","labelOffset":14,"labelOverlap":false,"labelLimit":300,"labelBaseline":"middle"}}
 }}
]
},
{
"width": 862, "height": 84,
"data": {"values": [{}]},
"layer": [
{"mark": {"type":"rect","color":{"gradient":"linear","x1":0,"y1":0,"x2":1,"y2":0,"stops":[{"offset":0,"color":"#1f68f5"},{"offset":0.5,"color":"#8e2bd6"},{"offset":1,"color":"#f8185a"}]}},
 "encoding": {"x":{"datum":-29.9,"type":"quantitative","scale":{"domain":[-32.7,30.4],"nice":false,"zero":false},"axis":null},"x2":{"datum":28.2},
              "y":{"datum":22.2,"type":"quantitative","scale":{"domain":[0,84],"reverse":true,"nice":false,"zero":false},"axis":null},"y2":{"datum":23.8}}},
{"mark": {"type":"point","shape":"triangle-left","filled":true,"size":90,"color":"#1f68f5","opacity":1},
 "encoding": {"x":{"datum":-29.9,"type":"quantitative"},"y":{"datum":23,"type":"quantitative"}}},
{"mark": {"type":"point","shape":"triangle-right","filled":true,"size":90,"color":"#f8185a","opacity":1},
 "encoding": {"x":{"datum":28.2,"type":"quantitative"},"y":{"datum":23,"type":"quantitative"}}},
{"mark": {"type":"text","text":["Lower predicted","family resilience"],"color":"#2456d6","fontSize":19,"lineHeight":25,"align":"center","baseline":"middle"},
 "encoding": {"x":{"datum":-23.4,"type":"quantitative"},"y":{"datum":49,"type":"quantitative"}}},
{"mark": {"type":"text","text":["Higher predicted","family resilience"],"color":"#dc1f5f","fontSize":19,"lineHeight":25,"align":"center","baseline":"middle"},
 "encoding": {"x":{"datum":19.8,"type":"quantitative"},"y":{"datum":49,"type":"quantitative"}}}
]
}
]
}
